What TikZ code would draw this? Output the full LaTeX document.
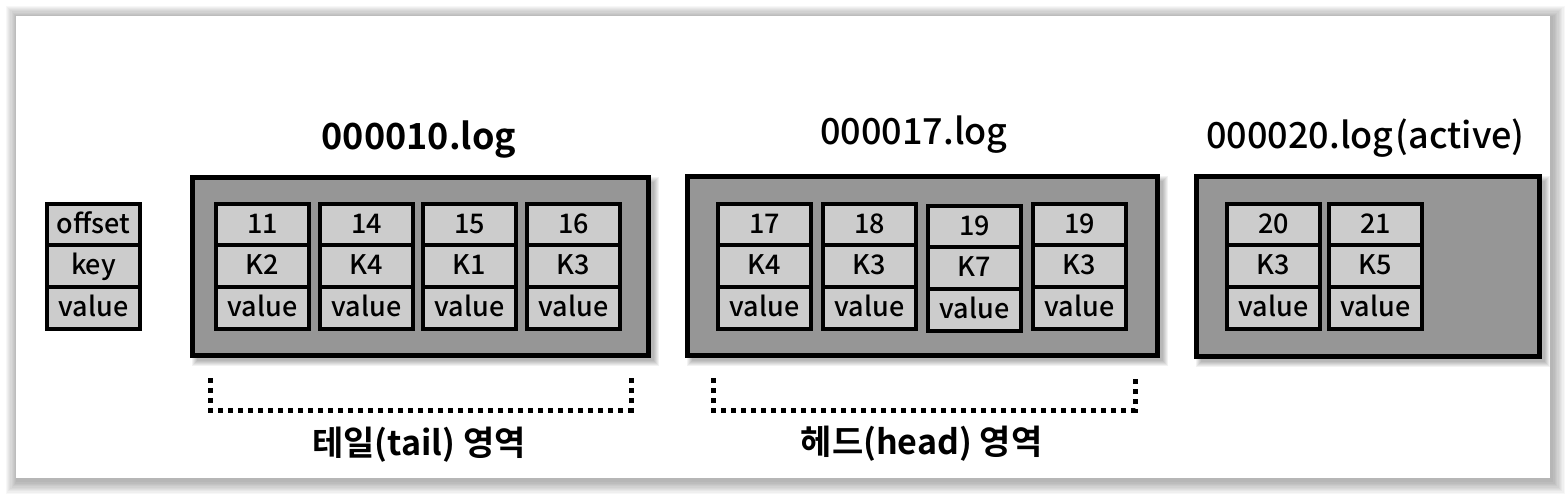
\documentclass[tikz,border=0pt]{standalone}
\usepackage{fontspec}
\setmainfont{Noto Sans CJK KR}[BoldFont={Noto Sans CJK KR Bold}]
\newfontfamily\medfont{Noto Sans CJK KR Medium}
\definecolor{boxgray}{RGB}{150,150,150}
\definecolor{cellgray}{RGB}{204,204,204}
\tikzset{
  logbox/.style={draw=black, line width=4.5pt, fill=boxgray, inner sep=0pt, outer sep=0pt},
  cell/.style={draw=black, line width=4pt, fill=cellgray, minimum width=93pt, minimum height=41.5pt,
    inner sep=0pt, outer sep=0pt, text height=19pt, text depth=2pt, font=\medfont\fontsize{27}{27}\selectfont},
  filetitle/.style={anchor=base, inner sep=0pt, font=\medfont\fontsize{36}{36}\selectfont},
  arealabel/.style={anchor=base, inner sep=0pt, font=\fontsize{34}{34}\selectfont\bfseries},
  dotline/.style={line width=5pt, dash pattern=on 5pt off 5pt},
  boxshadow/.style={fill=black, opacity=0.05},
  panelshadow/.style={fill=black, opacity=0.03},
}
\newcommand\rec[5]{%
  \node[cell] (#1o) at (#2+48.5, #3+22.75) {#4};
  \node[cell] (#1k) at (#2+48.5, #3+64.25) {#5};
  \node[cell] (#1v) at (#2+48.5, #3+105.75) {value};
}
\newcommand\bshadow[4]{%
  \foreach \i in {1,...,6} {\fill[boxshadow] (#1+8-\i, #2+8-\i) rectangle (#3+2+\i, #4+2+\i);}
}
\begin{document}
\begin{tikzpicture}[x=1pt, y=-1pt]
\useasboundingbox (0,0) rectangle (1566,494);
\fill[white] (0,0) rectangle (1566,494);
% panel with soft shadow
\foreach \i in {1,...,10} {\fill[panelshadow] (16-\i*1.1+1, 16-\i*1.1+1) rectangle (1550+\i*1.3+2, 478+\i*1.3+3);}
\fill[white] (16,16) rectangle (1550,478);

% legend
\rec{leg}{45}{202}{offset}{key}

% log boxes
\bshadow{190}{175}{651}{358}
\node[logbox, minimum width=456pt, minimum height=178pt] (log10) at (420.5,266.5) {};
\bshadow{685}{174}{1160}{358}
\node[logbox, minimum width=470pt, minimum height=179pt] (log17) at (922.5,266) {};
\bshadow{1194}{174}{1542}{359}
\node[logbox, minimum width=343pt, minimum height=180pt] (log20) at (1368,266.5) {};

% titles
\node[filetitle, font=\fontsize{36}{36}\selectfont\bfseries] (t10) at (419,150) {000010.log};
\node[filetitle] (t17) at (914,145) {000017.log};
\node[filetitle] (t20) at (1365.5,149) {000020.log\hspace{2pt}(active)};

% records
\rec{a}{214}{202}{11}{K2}
\rec{b}{318}{202}{14}{K4}
\rec{c}{421}{202}{15}{K1}
\rec{d}{525}{202}{16}{K3}
\rec{e}{716}{202}{17}{K4}
\rec{f}{821}{202}{18}{K3}
\rec{g}{926}{204}{19}{K7}
\rec{h}{1031}{202}{19}{K3}
\rec{i}{1225}{202}{20}{K3}
\rec{j}{1327}{202}{21}{K5}

% brackets
\coordinate (tailTL) at (210,378);
\coordinate (tailBL) at (210,410);
\coordinate (tailBR) at (631,410);
\coordinate (tailTR) at (631,378);
\draw[dotline] (tailTL) -- (tailBL) -- (tailBR) -- (tailTR);
\coordinate (headTL) at (713,378);
\coordinate (headBL) at (713,410);
\coordinate (headBR) at (1135,410);
\coordinate (headTR) at (1135,378);
\draw[dotline] (headTL) -- (headBL) -- (headBR) -- (headTR);

\node[arealabel] (tail) at (419,455) {테일(tail) 영역};
\node[arealabel] (head) at (921.5,454) {헤드(head) 영역};
\end{tikzpicture}
\end{document}
